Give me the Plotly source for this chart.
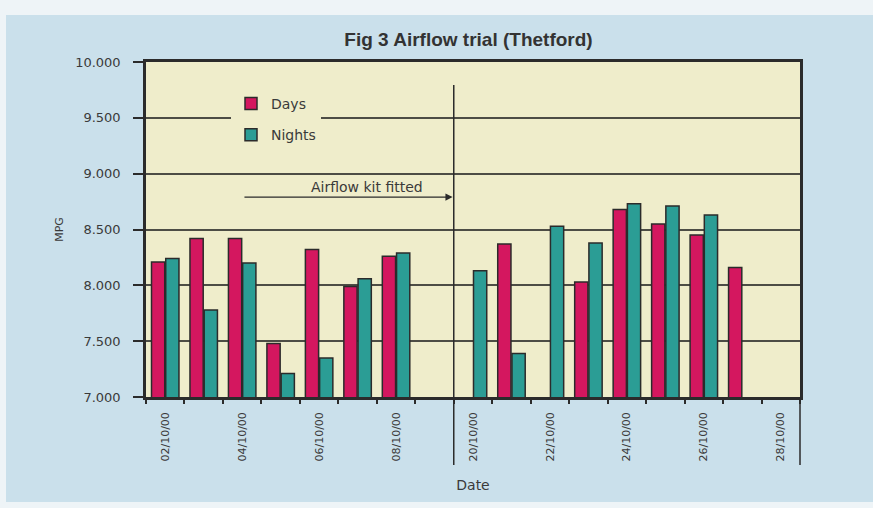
import plotly.graph_objects as go

# Fuel economy (MPG) per date, day and night shifts
dates = ["02/10/00", "03/10/00", "04/10/00", "05/10/00", "06/10/00", "07/10/00",
         "08/10/00", "09/10/00", "20/10/00", "21/10/00", "22/10/00", "23/10/00",
         "24/10/00", "25/10/00", "26/10/00", "27/10/00", "28/10/00"]
days = [8.21, 8.42, 8.42, 7.48, 8.32, 7.99, 8.26, None, None, 8.37, None, 8.03,
        8.68, 8.55, 8.45, 8.16, None]
nights = [8.24, 7.78, 8.20, 7.21, 7.35, 8.06, 8.29, None, 8.13, 7.39, 8.53, 8.38,
          8.73, 8.71, 8.63, None, None]

y_ticks = [7.0, 7.5, 8.0, 8.5, 9.0, 9.5, 10.0]
kit_fitted_after = "09/10/00"   # kit fitted between these two dates
arrow_start = "04/10/00"

W, H = 873, 508
ML, MR, MT, MB = 146, 73, 62, 111
PW, PH = W - ML - MR, H - MT - MB

def px_x(px):
    return (px - ML) / PW

def px_y(py):
    return (H - MB - py) / PH

pos = list(range(len(dates)))
boundary = dates.index(kit_fitted_after) + 0.5

FONT = "DejaVu Sans"
TXT = "#3a3a3a"
LINE = "#2b2b2b"
PLOT_BG = "#efedcb"
DAY_C = "#d4175f"
NIGHT_C = "#2b9d95"

fig = go.Figure()
fig.add_trace(go.Bar(x=pos, y=days, name="Days", marker_color=DAY_C,
                     marker_line=dict(color=LINE, width=1.5), legendgroup="d"))
fig.add_trace(go.Bar(x=pos, y=nights, name="Nights", marker_color=NIGHT_C,
                     marker_line=dict(color=LINE, width=1.5), legendgroup="n"))

shapes = [
    # light margins of the page
    dict(type="rect", xref="paper", yref="paper", x0=px_x(0), x1=px_x(W),
         y0=px_y(15), y1=px_y(0), fillcolor="#eef4f7", line_width=0, layer="below"),
    dict(type="rect", xref="paper", yref="paper", x0=px_x(0), x1=px_x(W),
         y0=px_y(H), y1=px_y(502), fillcolor="#eef4f7", line_width=0, layer="below"),
    dict(type="rect", xref="paper", yref="paper", x0=px_x(0), x1=px_x(6),
         y0=px_y(H), y1=px_y(0), fillcolor="#eef4f7", line_width=0, layer="below"),
    # divider: before / after the airflow kit
    dict(type="line", xref="x", yref="paper", x0=boundary, x1=boundary,
         y0=px_y(465), y1=px_y(85), line=dict(color=LINE, width=1.5)),
    # right frame carried down through the labels
    dict(type="line", xref="paper", yref="paper", x0=1, x1=1,
         y0=px_y(465), y1=0, line=dict(color=LINE, width=1.5)),
]

annotations = [
    dict(x=boundary - 0.03, y=8.79, xref="x", yref="y", ax=dates.index(arrow_start) + 0.02,
         ay=8.79, axref="x", ayref="y", text="", showarrow=True, arrowhead=2,
         arrowsize=1.1, arrowwidth=1.3, arrowcolor=LINE),
    dict(x=(dates.index(arrow_start) + boundary) / 2 + 0.5, y=8.88, xref="x", yref="y",
         text="Airflow kit fitted", showarrow=False,
         font=dict(family=FONT, size=14, color=TXT)),
]

fig.update_layout(
    width=W, height=H,
    margin=dict(l=ML, r=MR, t=MT, b=MB),
    paper_bgcolor="#cae0eb",
    plot_bgcolor=PLOT_BG,
    barmode="group", bargap=0.26, bargroupgap=0.07,
    title=dict(text="<b>Fig 3 Airflow trial (Thetford)</b>", x=468.5 / W,
               xanchor="center", y=1 - 39 / H, yanchor="middle",
               font=dict(family="Liberation Sans", size=19, color="#333333")),
    legend=dict(x=px_x(231), y=px_y(88), xanchor="left", yanchor="top",
                bgcolor=PLOT_BG, traceorder="grouped", tracegroupgap=10,
                entrywidth=58,
                font=dict(family=FONT, size=14, color=TXT)),
    shapes=shapes,
    annotations=annotations,
    xaxis=dict(
        range=[-0.5, len(dates) - 0.5],
        tickmode="array", tickvals=pos[::2], ticktext=dates[::2],
        tickangle=-90, ticks="", ticklabelstandoff=8,
        tickfont=dict(family=FONT, size=11, color=TXT),
        minor=dict(tick0=0.5, dtick=1, ticks="outside", ticklen=4,
                   tickwidth=1.5, tickcolor=LINE),
        showgrid=False, zeroline=False,
        showline=True, linecolor=LINE, linewidth=2.5, mirror=True,
        title=dict(text="Date", standoff=20, font=dict(family=FONT, size=14, color=TXT)),
    ),
    yaxis=dict(
        range=[7, 10], tickmode="array", tickvals=y_ticks, tickformat=".3f",
        ticks="outside", ticklen=10, tickwidth=1.5, tickcolor=LINE,
        ticklabelstandoff=10,
        tickfont=dict(family=FONT, size=13, color=TXT),
        showgrid=True, gridcolor="#4d4d45", gridwidth=1.5, zeroline=False,
        showline=True, linecolor=LINE, linewidth=2.5, mirror=True,
        title=dict(text="MPG", standoff=10, font=dict(family=FONT, size=11, color=TXT)),
    ),
)

fig.write_html("out.html")
